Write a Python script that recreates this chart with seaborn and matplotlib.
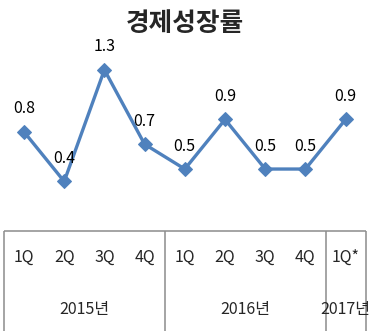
import matplotlib
matplotlib.use("Agg")
import matplotlib.pyplot as plt
import seaborn as sns
import pandas as pd

quarters = ["1Q", "2Q", "3Q", "4Q", "1Q", "2Q", "3Q", "4Q", "1Q*"]
growth = [0.8, 0.4, 1.3, 0.7, 0.5, 0.9, 0.5, 0.5, 0.9]
years = ["2015년", "2016년", "2017년"]
year_spans = [(0, 3), (4, 7), (8, 8)]

sns.set_style("white")
plt.rcParams["font.family"] = ["Noto Sans CJK KR", "DejaVu Sans"]

fig = plt.figure(figsize=(3.75, 3.31), dpi=100)
ax = fig.add_axes([0, 0, 1, 1])

df = pd.DataFrame({"idx": range(len(growth)), "growth": growth})
line_color = "#4F81BD"
sns.lineplot(data=df, x="idx", y="growth", ax=ax, color=line_color,
             linewidth=2.4, marker="D", markersize=7.5,
             markeredgecolor=line_color, markerfacecolor=line_color)

# value labels above each point
for i, v in enumerate(growth):
    ax.annotate(f"{v:.1f}", (i, v), xytext=(0, 16.5), textcoords="offset points",
                ha="center", va="center", fontsize=11.5, color="black")

# category table below the zero line
grid_color = "#8c8c8c"
ax.plot([-0.5, 8.5], [0, 0], color=grid_color, lw=1.1, solid_capstyle="butt")
ymin = -0.82
for xv in [-0.5, 3.5, 7.5, 8.5]:
    ax.plot([xv, xv], [0, ymin], color=grid_color, lw=1.1, solid_capstyle="butt")

for i, q in enumerate(quarters):
    ax.text(i, -0.21, q, ha="center", va="center", fontsize=11.5)
for (a, b), y in zip(year_spans, years):
    ax.text((a + b) / 2, -0.635, y, ha="center", va="center", fontsize=11.5)

ax.set_xlim(-0.597, 8.731)
ax.set_ylim(-0.806, 1.863)
ax.axis("off")

fig.text(0.493, 0.93, "경제성장률", ha="center", va="center",
         fontsize=18.5, fontweight="bold")

fig.savefig("out.png", dpi=100)
